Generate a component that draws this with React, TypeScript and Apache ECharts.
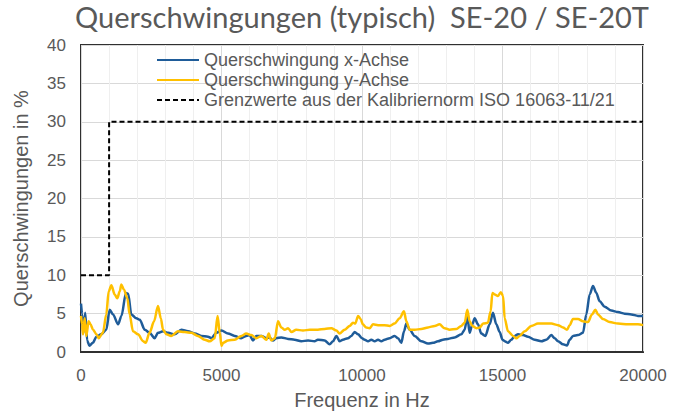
import React, { useEffect, useRef } from "react";
import * as echarts from "echarts";

const titleText = "Querschwingungen (typisch)  SE-20 / SE-20T";
const xAxisName = "Frequenz in Hz";
const yAxisName = "Querschwingungen in %";
const seriesNames = [
  "Querschwingung x-Achse",
  "Querschwingung y-Achse",
  "Grenzwerte aus der Kalibriernorm ISO 16063-11/21",
];

const freqX = [
  0, 40, 80, 150, 220, 300, 420, 550, 720, 900, 1020, 1140, 1320, 1440, 1600, 1680, 1790, 1970, 2090, 2270,
  2440, 2620, 2740, 2920, 3100, 3330, 3570, 3810, 4050, 4280, 4520, 4640, 4820, 5000, 5230, 5470, 5700, 5880,
  6000, 6120, 6240, 6420, 6600, 6710, 6830, 6950, 7130, 7370, 7600, 7840, 8080, 8310, 8430, 8670, 8850, 8970,
  9090, 9200, 9320, 9500, 9620, 9740, 9860, 10000, 10095, 10214, 10332, 10451, 10570, 10688, 10807, 10985,
  11163, 11281, 11400, 11495, 11578, 11696, 11874, 12111, 12349, 12527, 12704, 12882, 13060, 13297, 13535,
  13653, 13748, 13831, 13926, 14009, 14128, 14246, 14389, 14543, 14661, 14780, 14900, 15000, 15077, 15196,
  15314, 15433, 15552, 15730, 15907, 16145, 16382, 16560, 16738, 16856, 16975, 17153, 17295, 17390, 17509,
  17686, 17864, 17983, 18102, 18220, 18339, 18458, 18635, 18872, 19110, 19347, 19584, 19821, 20000,
];
const valuesX = [
  6.3, 5.0, 2.4, 5.1, 1.5, 0.8, 1.2, 2.0, 2.3, 2.9, 5.5, 4.9, 3.6, 4.7, 7.7, 7.6, 4.9, 4.4, 4.2, 2.9,
  2.5, 1.8, 2.5, 2.7, 2.5, 2.3, 2.9, 2.7, 2.4, 2.1, 2.0, 1.8, 2.5, 2.8, 2.4, 2.1, 1.8, 2.1,
  2.2, 1.5, 2.1, 2.1, 1.8, 1.9, 1.5, 1.8, 1.9, 1.7, 1.6, 1.4, 1.5, 1.4, 1.6, 1.5, 1.0, 1.4,
  2.1, 1.4, 1.6, 1.8, 2.1, 2.6, 2.3, 1.8, 1.6, 1.4, 1.6, 1.4, 1.6, 1.4, 1.6, 1.8,
  2.1, 1.8, 1.2, 2.7, 3.7, 2.9, 2.1, 1.4, 1.1, 1.2, 1.4, 1.6, 1.7, 1.9, 2.3,
  2.9, 4.7, 2.5, 3.6, 4.4, 3.6, 2.4, 2.1, 3.6, 5.1, 3.6, 2.6, 1.6, 1.4, 1.2,
  1.6, 2.1, 2.3, 2.2, 2.0, 1.6, 1.4, 1.6, 2.2, 1.8, 1.4, 1.0, 0.85, 1.6, 2.1,
  2.2, 2.5, 4.9, 7.5, 8.6, 7.7, 6.6, 5.9, 5.4, 5.2, 5.0, 4.9, 4.7, 4.7,
];

const freqY = [
  0, 40, 70, 130, 190, 270, 340, 430, 550, 630, 780, 900, 985, 1080, 1200, 1290, 1380, 1435, 1530, 1650,
  1730, 1850, 2030, 2210, 2300, 2440, 2600, 2740, 2840, 2920, 3040, 3210, 3450, 3690, 3930, 4160, 4400, 4580,
  4760, 4860, 4940, 5000, 5060, 5230, 5470, 5710, 5880, 6060, 6240, 6420, 6600, 6680, 6770, 6900, 7010, 7130,
  7250, 7370, 7490, 7660, 7900, 8140, 8430, 8670, 8910, 9090, 9200, 9380, 9560, 9680, 9760, 9860, 9950, 10030,
  10150, 10270, 10390, 10570, 10800, 10985, 11160, 11340, 11495, 11578, 11696, 11874, 12110, 12350, 12590,
  12760, 12940, 13120, 13360, 13535, 13653, 13748, 13831, 13926, 14070, 14190, 14310, 14480, 14578, 14640,
  14720, 14840, 14940, 15020, 15077, 15196, 15374, 15493, 15612, 15790, 16026, 16263, 16500, 16738, 16975,
  17153, 17295, 17390, 17509, 17686, 17864, 18042, 18185, 18304, 18398, 18576, 18813, 19110, 19466, 19821, 20000,
];
const valuesY = [
  4.7, 3.6, 2.3, 4.4, 2.1, 4.0, 3.6, 2.9, 2.3, 1.8, 2.5, 4.9, 7.9, 8.7, 7.5, 7.0, 7.9, 8.8, 8.1, 7.0,
  4.9, 2.7, 2.3, 1.4, 1.2, 2.5, 4.0, 6.0, 4.4, 2.9, 2.3, 2.1, 2.7, 2.6, 2.5, 2.1, 1.6, 1.4,
  1.8, 4.7, 2.5, 0.8, 1.2, 1.5, 1.6, 2.1, 2.4, 2.2, 1.8, 2.1, 1.6, 2.4, 1.5, 1.8, 4.0, 3.2,
  2.9, 3.1, 2.6, 2.9, 2.8, 2.9, 2.9, 3.0, 3.1, 2.8, 2.4, 2.9, 3.4, 3.8, 3.7, 4.7, 4.3, 3.6,
  3.2, 3.1, 3.6, 3.5, 3.5, 3.4, 3.7, 4.4, 5.3, 4.0, 2.9, 2.9, 3.0, 3.2, 3.4,
  3.6, 3.1, 2.9, 3.0, 3.4, 3.8, 5.5, 4.0, 3.4, 3.1, 3.2, 3.7, 3.8, 5.3, 7.7,
  7.5, 7.3, 7.8, 7.3, 4.4, 2.7, 2.1, 1.8, 2.1, 2.7, 3.4, 3.7, 3.7, 3.7, 3.5,
  3.2, 2.9, 3.5, 4.3, 4.3, 4.0, 3.9, 4.9, 5.5, 4.9, 4.3, 3.9, 3.7, 3.6, 3.6, 3.5,
];

const limitFreq = [0, 1000, 1000, 20000];
const limitValues = [10, 10, 30, 30];

const zip = (xs: number[], ys: number[]) => xs.map((x, i) => [x, ys[i]]);

const gray = "#595959";
const font = "Liberation Sans";

export default function App() {
  const ref = useRef<HTMLDivElement>(null);
  useEffect(() => {
    if (!ref.current) return;
    const chart = echarts.init(ref.current, undefined, { renderer: "svg" });
    chart.setOption({
      animation: false,
      backgroundColor: "#ffffff",
      textStyle: { fontFamily: font },
      graphic: [
        {
          type: "text",
          x: 362,
          y: 16,
          style: {
            text: titleText,
            fill: gray,
            font: "29px Lato",
            textAlign: "center",
            textVerticalAlign: "middle",
          },
        },
      ],
      grid: {
        left: 81,
        right: 40,
        top: 45,
        bottom: 63,
        show: true,
        borderColor: "#303030",
        borderWidth: 2,
        backgroundColor: "transparent",
      },
      legend: {
        orient: "vertical",
        left: 151,
        top: 45,
        itemWidth: 42,
        itemHeight: 12,
        itemGap: 0,
        itemStyle: { opacity: 0 },
        textStyle: { fontSize: 18, color: gray, fontFamily: font, lineHeight: 20 },
        data: seriesNames,
      },
      xAxis: {
        type: "value",
        min: 0,
        max: 20000,
        interval: 5000,
        name: xAxisName,
        nameLocation: "middle",
        nameGap: 38,
        nameTextStyle: { fontSize: 20, color: gray, fontFamily: font },
        axisLine: { show: true, lineStyle: { color: "#303030", width: 2 } },
        axisTick: { show: false },
        axisLabel: {
          fontSize: 17,
          color: gray,
          margin: 15,
          fontFamily: font,
          formatter: (v: number) => String(v),
        },
        splitLine: { show: true, lineStyle: { color: "#d9d9d9", width: 1 } },
        minorTick: { show: false, splitNumber: 5 },
        minorSplitLine: { show: true, lineStyle: { color: "#efefef", width: 1 } },
      },
      yAxis: {
        type: "value",
        min: 0,
        max: 40,
        interval: 5,
        name: yAxisName,
        nameLocation: "middle",
        nameGap: 50,
        nameTextStyle: { fontSize: 20, color: gray, fontFamily: font },
        axisLine: { show: false },
        axisTick: { show: false },
        axisLabel: {
          fontSize: 17,
          color: gray,
          margin: 15,
          fontFamily: font,
          formatter: (v: number) => String(v),
        },
        splitLine: { show: true, lineStyle: { color: "#d9d9d9", width: 1 } },
      },
      series: [
        {
          name: seriesNames[0],
          type: "line",
          data: zip(freqX, valuesX),
          symbol: "none",
          smooth: 0.3,
          smoothMonotone: "x",
          lineStyle: { color: "#1F5C99", width: 2.5 },
          itemStyle: { color: "#1F5C99" },
        },
        {
          name: seriesNames[1],
          type: "line",
          data: zip(freqY, valuesY),
          symbol: "none",
          smooth: 0.3,
          smoothMonotone: "x",
          lineStyle: { color: "#FFC000", width: 2.5 },
          itemStyle: { color: "#FFC000" },
        },
        {
          name: seriesNames[2],
          type: "line",
          data: zip(limitFreq, limitValues),
          symbol: "none",
          lineStyle: { color: "#000000", width: 2, type: [5, 3] },
          itemStyle: { color: "#000000" },
        },
      ],
    });
    return () => chart.dispose();
  }, []);
  return (
    <div
      ref={ref}
      style={{ position: "fixed", left: 0, top: 0, width: 683, height: 415, background: "#fff" }}
    />
  );
}
